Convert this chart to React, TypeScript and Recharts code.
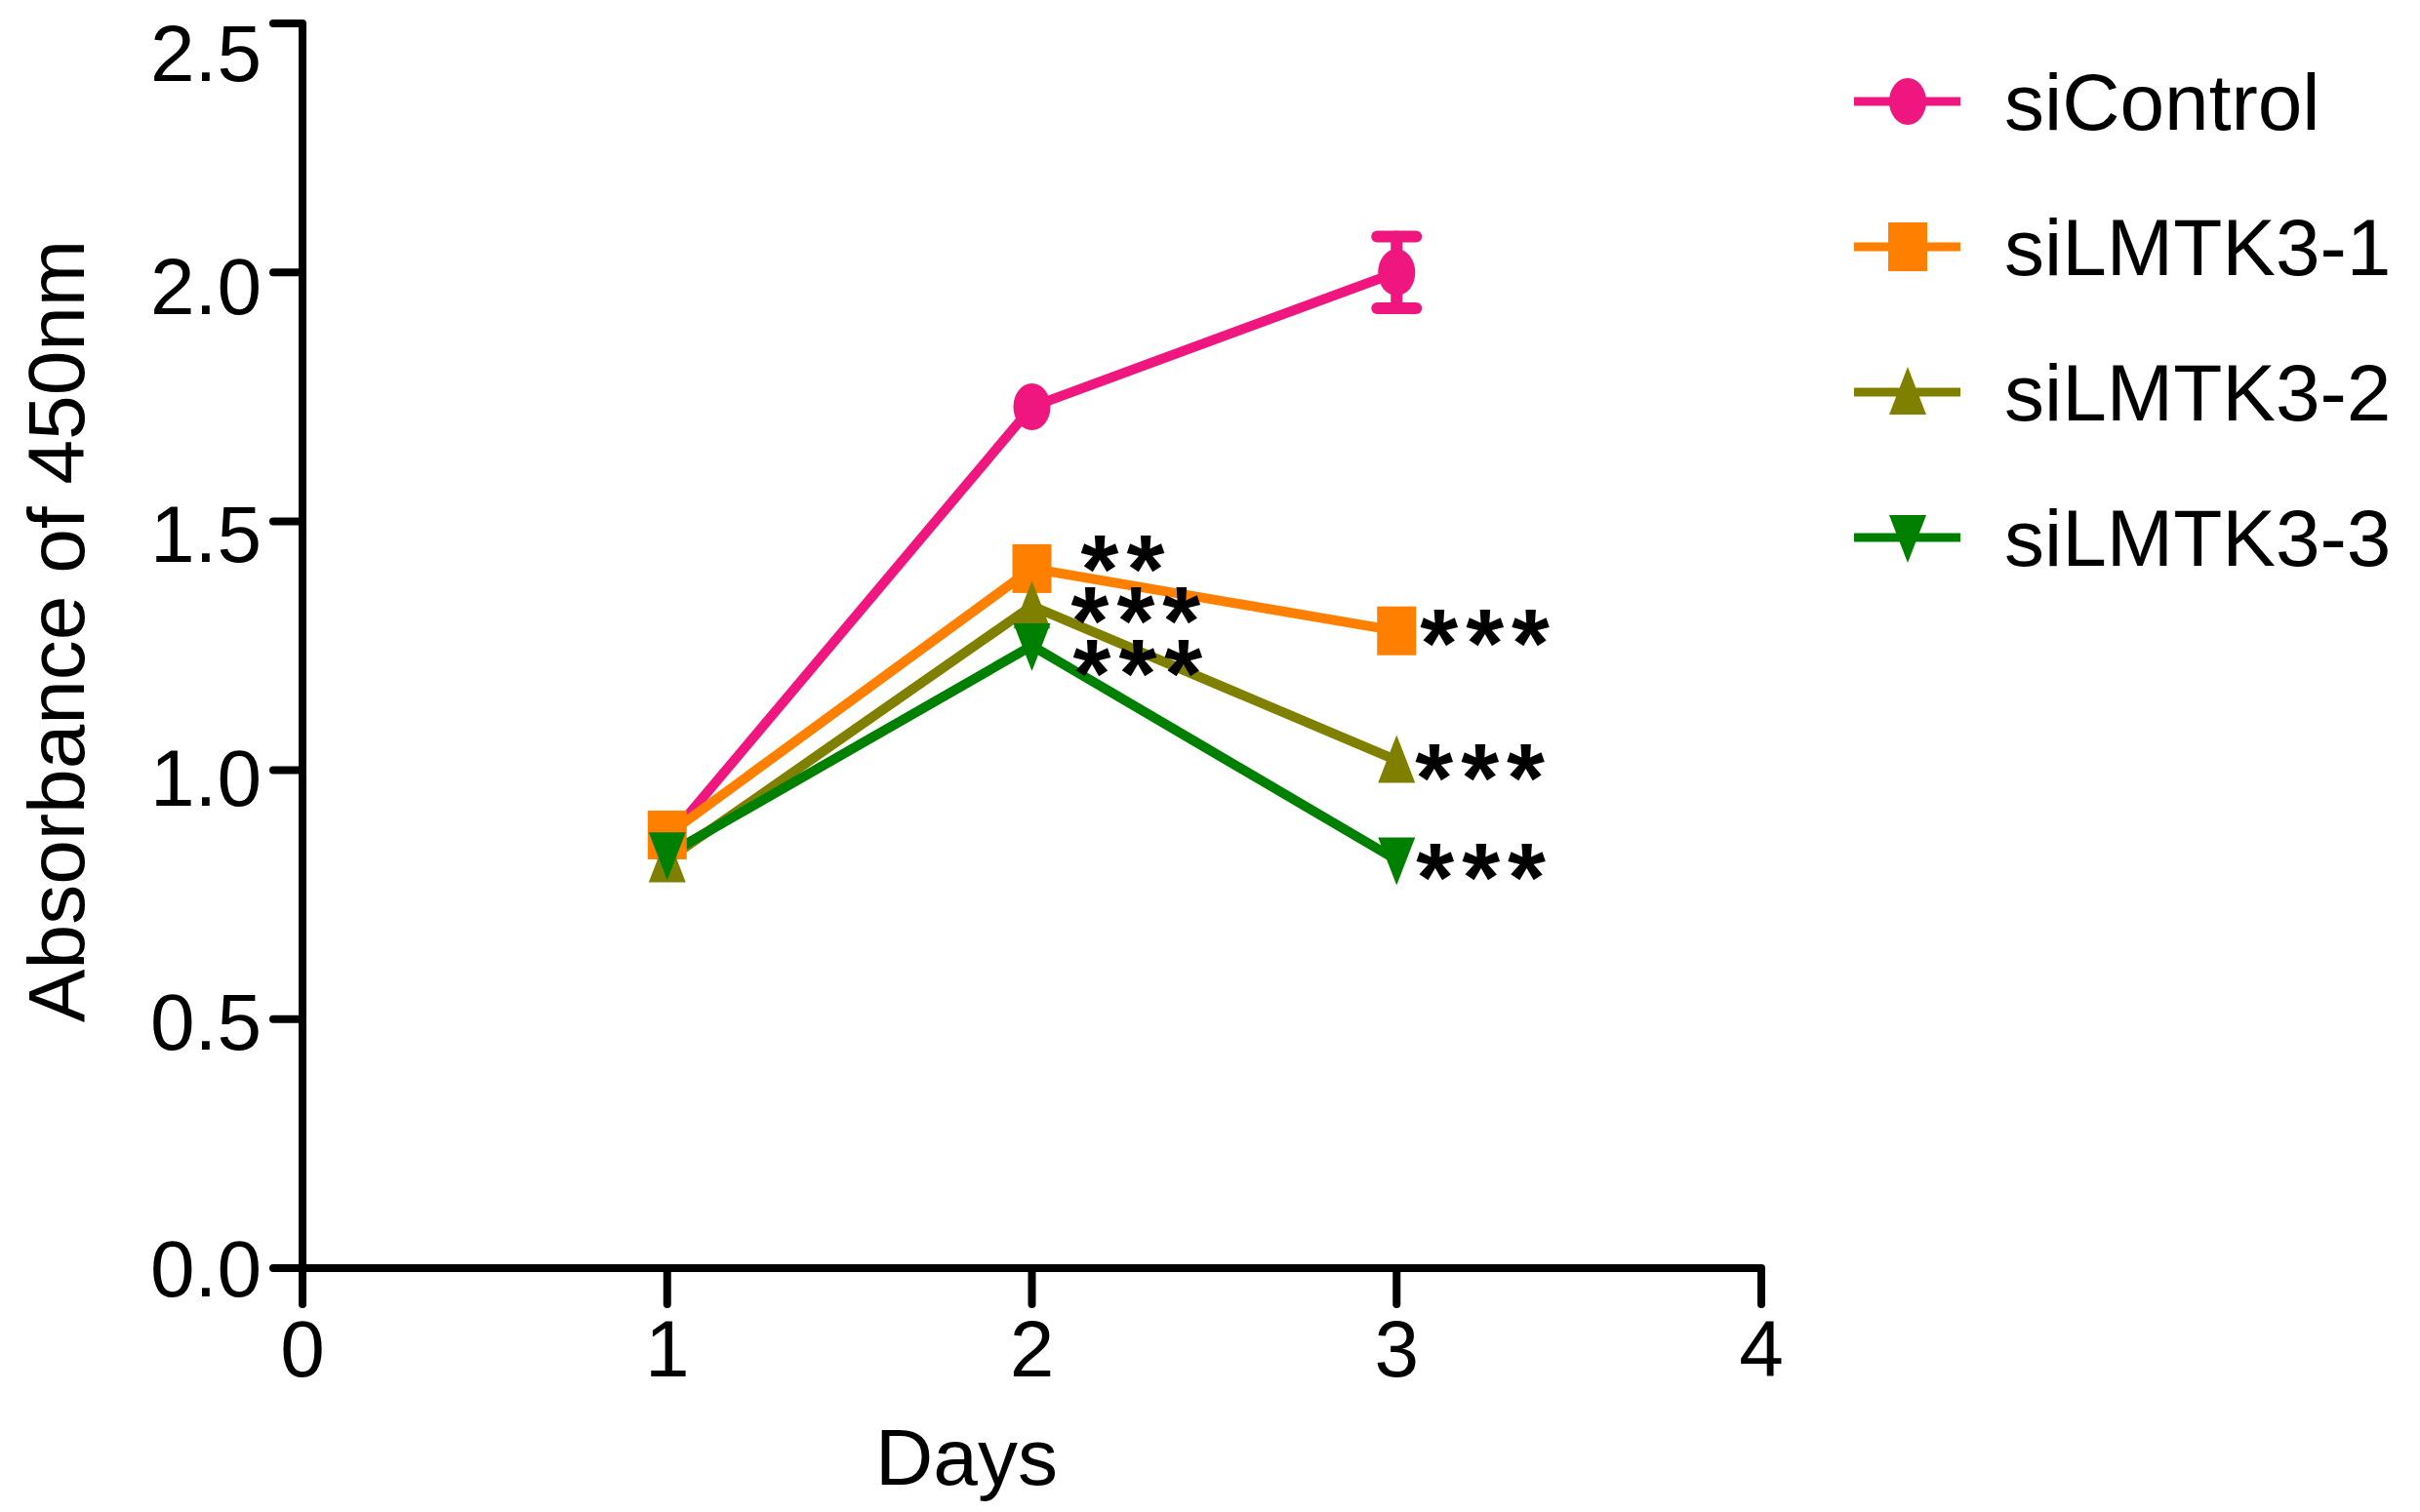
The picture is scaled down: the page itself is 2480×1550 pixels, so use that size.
import React from 'react';
import { LineChart, Line, XAxis, YAxis, ErrorBar, LabelList, Legend } from 'recharts';

const days = [1, 2, 3];
const siControl = [0.86, 1.73, 2.0];
const siControlErr = [null, null, 0.072];
const siLMTK3_1 = [0.87, 1.405, 1.28];
const siLMTK3_2 = [0.82, 1.33, 1.02];
const siLMTK3_3 = [0.83, 1.25, 0.82];
const sig1 = ['', '**', '***'];
const sig2 = ['', '***', '***'];
const sig3 = ['', '***', '***'];
const xTicks = [0, 1, 2, 3, 4];
const yTicks = [0, 0.5, 1.0, 1.5, 2.0, 2.5];
const seriesNames = ['siControl', 'siLMTK3-1', 'siLMTK3-2', 'siLMTK3-3'];

const COLORS = ['#F0167F', '#FF8000', '#808000', '#008000'];
const SHAPES = ['circle', 'square', 'triangleUp', 'triangleDown'];
const FONT = '"Liberation Sans", Arial, Helvetica, sans-serif';

const data = days.map((d, i) => ({
  day: d,
  ctrl: siControl[i],
  ctrlErr: siControlErr[i],
  l1: siLMTK3_1[i],
  l2: siLMTK3_2[i],
  l3: siLMTK3_3[i],
  s1: sig1[i],
  s2: sig2[i],
  s3: sig3[i],
}));

function Marker({ shape, color, cx, cy }: { shape: string; color: string; cx: number; cy: number }) {
  if (shape === 'circle') return <ellipse cx={cx} cy={cy} rx={19} ry={24} fill={color} />;
  if (shape === 'square') return <rect x={cx - 20} y={cy - 25} width={40} height={50} fill={color} />;
  if (shape === 'triangleUp')
    return <polygon points={`${cx},${cy - 26} ${cx + 19},${cy + 23} ${cx - 19},${cy + 23}`} fill={color} />;
  return <polygon points={`${cx - 19},${cy - 23} ${cx + 19},${cy - 23} ${cx},${cy + 26}`} fill={color} />;
}

const makeDot = (k: number) => (props: any) => {
  const { cx, cy, index } = props;
  if (cx == null || cy == null) return <g key={`d${k}-${index}`} />;
  return (
    <g key={`d${k}-${index}`}>
      <Marker shape={SHAPES[k]} color={COLORS[k]} cx={cx} cy={cy} />
    </g>
  );
};

// label offsets [dx, dy] per point index
const SIG_OFFSETS: Record<string, number[][]> = {
  s1: [[0, 0], [50, -22], [24, -10]],
  s2: [[0, 0], [40, -8], [19, -5]],
  s3: [[0, 0], [42, 5], [20, -5]],
};
const SIG_FS = 100;

const makeSig = (key: string) => (props: any) => {
  const { x, y, value, index } = props;
  if (!value) return null;
  const [dx, dy] = SIG_OFFSETS[key][index] || [0, 0];
  return (
    <text
      key={`${key}-${index}`}
      x={x + dx}
      y={y + dy + SIG_FS * 0.575}
      fontSize={SIG_FS}
      fontWeight="bold"
      fontFamily={FONT}
      letterSpacing={8}
      fill="#000"
      textAnchor="start"
    >
      {value}
    </text>
  );
};

// small downward shift of y tick labels (as in the reference)
const Y_LABEL_SHIFT: Record<string, number> = { '0': 0, '0.5': 2, '1': 7, '1.5': 12, '2': 14, '2.5': 30 };

const YTick = (props: any) => {
  const { x, y, payload } = props;
  const v = payload.value;
  const shift = Y_LABEL_SHIFT[String(v)] || 0;
  return (
    <text
      x={x}
      y={y + shift}
      dy="0.355em"
      textAnchor="end"
      fontSize={82}
      fontFamily={FONT}
      fill="#000"
    >
      {Number(v).toFixed(1)}
    </text>
  );
};

const LegendContent = () => {
  const rowsY = [56, 205, 354, 503];
  return (
    <svg width={580} height={600} style={{ display: 'block' }}>
      {seriesNames.map((name, i) => (
        <g key={name}>
          <line x1={12} x2={121} y1={rowsY[i]} y2={rowsY[i]} stroke={COLORS[i]} strokeWidth={9} />
          <Marker shape={SHAPES[i]} color={COLORS[i]} cx={67} cy={rowsY[i]} />
          <text x={166} y={rowsY[i] + 29} fontSize={82} fontFamily={FONT} fill="#000">
            {name}
          </text>
        </g>
      ))}
    </svg>
  );
};

const axisStyle = { stroke: '#000', strokeWidth: 8 };
const tickLineStyle = { stroke: '#000', strokeWidth: 8, strokeLinecap: 'round' as const };

export default function App() {
  return (
    <div style={{ width: 2464, height: 1534, background: '#fff' }}>
      <LineChart
        width={2464}
        height={1534}
        data={data}
        margin={{ top: 16, right: 667, bottom: 92, left: 0 }}
      >
        <XAxis
          dataKey="day"
          type="number"
          domain={[0, 4]}
          ticks={xTicks}
          interval={0}
          height={150}
          tickSize={37}
          tickMargin={16}
          axisLine={axisStyle}
          tickLine={tickLineStyle}
          tick={{ fontSize: 82, fill: '#000', fontFamily: FONT }}
          label={(p: any) => {
            const vb = p.viewBox || {};
            return (
              <text
                x={vb.x + vb.width / 2 - 67}
                y={vb.y + 222}
                textAnchor="middle"
                fontSize={82}
                fontFamily={FONT}
                fill="#000"
              >
                Days
              </text>
            );
          }}
        />
        <YAxis
          type="number"
          domain={[0, 2.5]}
          ticks={yTicks}
          interval={0}
          width={302}
          tickSize={30}
          tickMargin={12}
          axisLine={axisStyle}
          tickLine={tickLineStyle}
          tick={<YTick />}
          label={(p: any) => {
            const vb = p.viewBox || {};
            const cy = vb.y + vb.height / 2 - 15;
            return (
              <g transform={`translate(78, ${cy}) rotate(-90)`}>
                <text x={0} y={0} textAnchor="middle" fontSize={82} fontFamily={FONT} fill="#000">
                  Absorbance of 450nm
                </text>
              </g>
            );
          }}
        />
        <Legend
          layout="vertical"
          align="center"
          verticalAlign="middle"
          width={580}
          wrapperStyle={{ left: 1880, top: 40, width: 580 }}
          content={<LegendContent />}
        />
        <Line
          name="siControl"
          dataKey="ctrl"
          stroke={COLORS[0]}
          strokeWidth={10}
          isAnimationActive={false}
          dot={makeDot(0)}
          activeDot={false}
        >
          <ErrorBar
            dataKey="ctrlErr"
            direction="y"
            width={20}
            stroke={COLORS[0]}
            strokeWidth={12}
            strokeLinecap="round"
            isAnimationActive={false}
          />
        </Line>
        <Line
          name="siLMTK3-1"
          dataKey="l1"
          stroke={COLORS[1]}
          strokeWidth={10}
          isAnimationActive={false}
          dot={makeDot(1)}
          activeDot={false}
        >
          <LabelList dataKey="s1" content={makeSig('s1')} />
        </Line>
        <Line
          name="siLMTK3-2"
          dataKey="l2"
          stroke={COLORS[2]}
          strokeWidth={10}
          isAnimationActive={false}
          dot={makeDot(2)}
          activeDot={false}
        >
          <LabelList dataKey="s2" content={makeSig('s2')} />
        </Line>
        <Line
          name="siLMTK3-3"
          dataKey="l3"
          stroke={COLORS[3]}
          strokeWidth={10}
          isAnimationActive={false}
          dot={makeDot(3)}
          activeDot={false}
        >
          <LabelList dataKey="s3" content={makeSig('s3')} />
        </Line>
      </LineChart>
    </div>
  );
}
